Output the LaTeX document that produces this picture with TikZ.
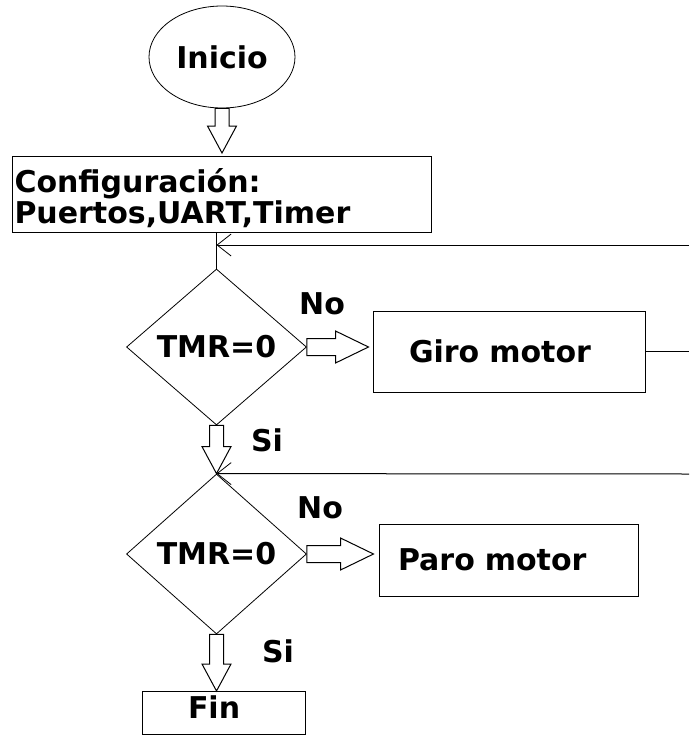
\documentclass[tikz,border=0pt]{standalone}
\usepackage{fontspec}
\setmainfont{DejaVu Sans}
\usetikzlibrary{shapes.geometric,arrows.meta,calc,positioning}

\tikzset{
  texto/.style={font=\bfseries\fontsize{30}{31}\selectfont},
  caja/.style={draw, texto, line width=1pt, inner sep=0pt},
  rombo/.style={draw, diamond, texto, line width=0.8pt, inner sep=0pt, minimum width=180pt, minimum height=156pt},
  bloque/.style={draw, fill=white, line width=1pt},
  linea/.style={line width=1pt},
  retorno/.style={line width=1pt, -{Straight Barb[length=14pt,width=22pt,line width=0.8pt]}}
}

% flecha de bloque hacia abajo / hacia la derecha
\newcommand{\flechaabajo}[2]{%
  \draw[bloque] let \p1=(#1), \p2=(#2) in
    (\x1-7pt,\y1) -- (\x1-7pt,\y2+27pt) -- (\x1-14.5pt,\y2+27pt) -- (\x1,\y2)
    -- (\x1+14.5pt,\y2+27pt) -- (\x1+7pt,\y2+27pt) -- (\x1+7pt,\y1) -- cycle;}
\newcommand{\flechaderecha}[2]{%
  \draw[bloque] let \p1=(#1), \p2=(#2) in
    (\x1,\y1+8.5pt) -- (\x2-33pt,\y1+8.5pt) -- (\x2-33pt,\y1+16pt) -- (\x2,\y1)
    -- (\x2-33pt,\y1-16pt) -- (\x2-33pt,\y1-8.5pt) -- (\x1,\y1-8.5pt) -- cycle;}

\begin{document}
\begin{tikzpicture}[x=1pt, y=-1pt]
        \useasboundingbox (0,0) rectangle (689,736);
        % ノードの配置
        \node[caja, ellipse, line width=0.8pt, minimum width=146pt, minimum height=102pt] (ini) at (222,57) {Inicio};
        \node[caja, anchor=north west, minimum width=419pt, minimum height=76pt, text width=415pt, align=left] (cfg) at (12,156) {\rule{0pt}{32pt}Configuración:\\Puertos,UART,Timer};
        \node[rombo] (d1) at (216.5,347) {TMR=0};
        \node[caja, minimum width=272pt, minimum height=81pt, text width=200pt, align=left] (giro) at (509,351.5) {Giro motor};
        \node[rombo, minimum height=160pt] (d2) at (216.5,554) {TMR=0};
        \node[caja, minimum width=259pt, minimum height=72pt, text width=221pt, align=left] (paro) at (508.5,560) {Paro motor};
        \node[caja, minimum width=163pt, minimum height=43pt, text width=71pt, align=left, text depth=12pt] (fin) at (223.5,713) {Fin};

        % etiquetas
        \node[texto] (no1) at (322,304) {No};
        \node[texto] (si1) at (267,440) {Si};
        \node[texto] (no2) at (320,508) {No};
        \node[texto] (si2) at (278,651) {Si};

        % 接続線
        \coordinate (r1) at (689,245);
        \coordinate (r2) at (689,474);
        \draw[linea] (cfg.south -| d1.north) -- (d1.north);
        \draw[retorno] (r1) -- (r1 -| d1.north);
        \draw[linea] (giro.east) -- (giro.east -| r1);
        \draw[retorno] (r2) -- (d2.north);
        \draw[linea] ($(paro.east)+(0,6)$) -- ($(paro.east)+(0,6)$ -| r2);

        % flechas de bloque
        \flechaabajo{ini.south}{$(cfg.north)+(0,-3)$}
        \flechaabajo{d1.south}{d2.north}
        \flechaabajo{d2.south}{fin.north}
        \flechaderecha{d1.east}{$(giro.west)+(-4,0)$}
        \flechaderecha{d2.east}{$(paro.west)+(-5,0)$}
\end{tikzpicture}
\end{document}
